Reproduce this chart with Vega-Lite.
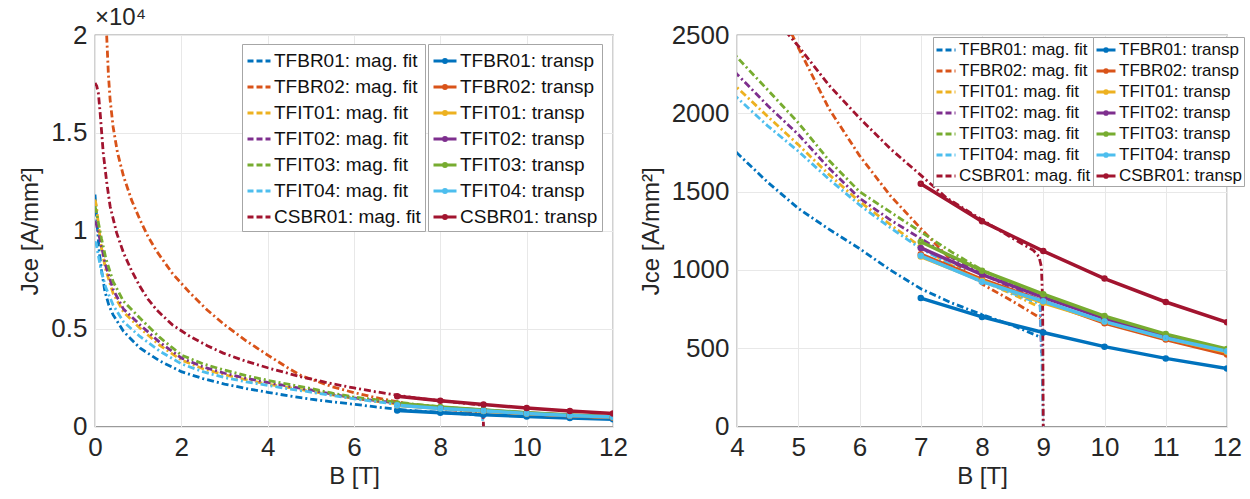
{
  "$schema": "https://vega.github.io/schema/vega-lite/v6.json",
  "autosize": {"type": "pad"},
  "padding": {"left": 18, "top": 5, "right": 5, "bottom": 5},
  "bounds": "flush",
  "spacing": 124,
  "background": "white",
  "resolve": {"scale": {"color": "independent", "stroke": "independent"}, "legend": {"color": "independent", "stroke": "independent"}},
  "datasets": {
    "fit": [
      {"s":"TFBR01: mag. fit","B":0,"J":11850},{"s":"TFBR01: mag. fit","B":0.05,"J":10300},{"s":"TFBR01: mag. fit","B":0.1,"J":8900},{"s":"TFBR01: mag. fit","B":0.15,"J":8000},{"s":"TFBR01: mag. fit","B":0.23,"J":6900},{"s":"TFBR01: mag. fit","B":0.32,"J":6200},{"s":"TFBR01: mag. fit","B":0.42,"J":5700},{"s":"TFBR01: mag. fit","B":0.66,"J":4860},{"s":"TFBR01: mag. fit","B":1.04,"J":4010},{"s":"TFBR01: mag. fit","B":1.5,"J":3350},{"s":"TFBR01: mag. fit","B":2,"J":2800},{"s":"TFBR01: mag. fit","B":2.5,"J":2450},{"s":"TFBR01: mag. fit","B":3,"J":2170},{"s":"TFBR01: mag. fit","B":3.5,"J":1940},{"s":"TFBR01: mag. fit","B":4,"J":1747},{"s":"TFBR01: mag. fit","B":4.5,"J":1560},{"s":"TFBR01: mag. fit","B":5,"J":1393},{"s":"TFBR01: mag. fit","B":5.5,"J":1260},{"s":"TFBR01: mag. fit","B":6,"J":1136},{"s":"TFBR01: mag. fit","B":6.5,"J":1000},{"s":"TFBR01: mag. fit","B":7,"J":880},{"s":"TFBR01: mag. fit","B":7.5,"J":790},{"s":"TFBR01: mag. fit","B":8,"J":715},{"s":"TFBR01: mag. fit","B":8.5,"J":645},{"s":"TFBR01: mag. fit","B":8.9,"J":580},{"s":"TFBR01: mag. fit","B":8.95,"J":570},
      {"s":"TFBR02: mag. fit","B":0.25,"J":21500},{"s":"TFBR02: mag. fit","B":0.27,"J":20000},{"s":"TFBR02: mag. fit","B":0.31,"J":18000},{"s":"TFBR02: mag. fit","B":0.35,"J":16700},{"s":"TFBR02: mag. fit","B":0.42,"J":15300},{"s":"TFBR02: mag. fit","B":0.52,"J":14000},{"s":"TFBR02: mag. fit","B":0.66,"J":12790},{"s":"TFBR02: mag. fit","B":0.85,"J":11550},{"s":"TFBR02: mag. fit","B":1.04,"J":10570},{"s":"TFBR02: mag. fit","B":1.23,"J":9700},{"s":"TFBR02: mag. fit","B":1.43,"J":8950},{"s":"TFBR02: mag. fit","B":1.8,"J":7800},{"s":"TFBR02: mag. fit","B":2.2,"J":6823},{"s":"TFBR02: mag. fit","B":2.6,"J":5950},{"s":"TFBR02: mag. fit","B":3,"J":5200},{"s":"TFBR02: mag. fit","B":3.5,"J":4380},{"s":"TFBR02: mag. fit","B":4,"J":3650},{"s":"TFBR02: mag. fit","B":4.5,"J":2950},{"s":"TFBR02: mag. fit","B":4.78,"J":2600},{"s":"TFBR02: mag. fit","B":5,"J":2420},{"s":"TFBR02: mag. fit","B":5.5,"J":2030},{"s":"TFBR02: mag. fit","B":6,"J":1730},{"s":"TFBR02: mag. fit","B":6.5,"J":1475},{"s":"TFBR02: mag. fit","B":7,"J":1265},{"s":"TFBR02: mag. fit","B":7.5,"J":1060},{"s":"TFBR02: mag. fit","B":8,"J":910},{"s":"TFBR02: mag. fit","B":8.5,"J":800},{"s":"TFBR02: mag. fit","B":8.9,"J":705},{"s":"TFBR02: mag. fit","B":8.95,"J":690},
      {"s":"TFIT01: mag. fit","B":0,"J":11600},{"s":"TFIT01: mag. fit","B":0.03,"J":11300},{"s":"TFIT01: mag. fit","B":0.08,"J":10300},{"s":"TFIT01: mag. fit","B":0.15,"J":9100},{"s":"TFIT01: mag. fit","B":0.25,"J":8000},{"s":"TFIT01: mag. fit","B":0.42,"J":6800},{"s":"TFIT01: mag. fit","B":0.66,"J":5850},{"s":"TFIT01: mag. fit","B":1.04,"J":5030},{"s":"TFIT01: mag. fit","B":1.5,"J":4150},{"s":"TFIT01: mag. fit","B":2,"J":3400},{"s":"TFIT01: mag. fit","B":2.5,"J":2950},{"s":"TFIT01: mag. fit","B":3,"J":2640},{"s":"TFIT01: mag. fit","B":3.5,"J":2390},{"s":"TFIT01: mag. fit","B":4,"J":2165},{"s":"TFIT01: mag. fit","B":4.5,"J":1980},{"s":"TFIT01: mag. fit","B":5,"J":1800},{"s":"TFIT01: mag. fit","B":5.5,"J":1610},{"s":"TFIT01: mag. fit","B":6,"J":1436},{"s":"TFIT01: mag. fit","B":6.5,"J":1290},{"s":"TFIT01: mag. fit","B":7,"J":1147},{"s":"TFIT01: mag. fit","B":7.5,"J":1030},{"s":"TFIT01: mag. fit","B":8,"J":930},{"s":"TFIT01: mag. fit","B":8.5,"J":845},{"s":"TFIT01: mag. fit","B":8.9,"J":770},
      {"s":"TFIT02: mag. fit","B":0,"J":10500},{"s":"TFIT02: mag. fit","B":0.03,"J":10350},{"s":"TFIT02: mag. fit","B":0.08,"J":9900},{"s":"TFIT02: mag. fit","B":0.15,"J":9200},{"s":"TFIT02: mag. fit","B":0.25,"J":8200},{"s":"TFIT02: mag. fit","B":0.42,"J":7000},{"s":"TFIT02: mag. fit","B":0.66,"J":6000},{"s":"TFIT02: mag. fit","B":1.04,"J":5200},{"s":"TFIT02: mag. fit","B":1.5,"J":4300},{"s":"TFIT02: mag. fit","B":2,"J":3500},{"s":"TFIT02: mag. fit","B":2.5,"J":3050},{"s":"TFIT02: mag. fit","B":3,"J":2720},{"s":"TFIT02: mag. fit","B":3.5,"J":2460},{"s":"TFIT02: mag. fit","B":4,"J":2250},{"s":"TFIT02: mag. fit","B":4.5,"J":2050},{"s":"TFIT02: mag. fit","B":5,"J":1865},{"s":"TFIT02: mag. fit","B":5.5,"J":1650},{"s":"TFIT02: mag. fit","B":6,"J":1458},{"s":"TFIT02: mag. fit","B":6.5,"J":1320},{"s":"TFIT02: mag. fit","B":7,"J":1200},{"s":"TFIT02: mag. fit","B":7.5,"J":1080},{"s":"TFIT02: mag. fit","B":8,"J":975},{"s":"TFIT02: mag. fit","B":8.5,"J":885},{"s":"TFIT02: mag. fit","B":8.9,"J":815},{"s":"TFIT02: mag. fit","B":8.95,"J":790},{"s":"TFIT02: mag. fit","B":8.97,"J":470},
      {"s":"TFIT03: mag. fit","B":0,"J":11250},{"s":"TFIT03: mag. fit","B":0.03,"J":11000},{"s":"TFIT03: mag. fit","B":0.08,"J":10400},{"s":"TFIT03: mag. fit","B":0.15,"J":9600},{"s":"TFIT03: mag. fit","B":0.25,"J":8600},{"s":"TFIT03: mag. fit","B":0.42,"J":7400},{"s":"TFIT03: mag. fit","B":0.66,"J":6400},{"s":"TFIT03: mag. fit","B":1.04,"J":5540},{"s":"TFIT03: mag. fit","B":1.5,"J":4550},{"s":"TFIT03: mag. fit","B":2,"J":3650},{"s":"TFIT03: mag. fit","B":2.5,"J":3200},{"s":"TFIT03: mag. fit","B":3,"J":2880},{"s":"TFIT03: mag. fit","B":3.5,"J":2600},{"s":"TFIT03: mag. fit","B":4,"J":2358},{"s":"TFIT03: mag. fit","B":4.5,"J":2150},{"s":"TFIT03: mag. fit","B":5,"J":1940},{"s":"TFIT03: mag. fit","B":5.5,"J":1700},{"s":"TFIT03: mag. fit","B":6,"J":1500},{"s":"TFIT03: mag. fit","B":6.5,"J":1370},{"s":"TFIT03: mag. fit","B":7,"J":1243},{"s":"TFIT03: mag. fit","B":7.5,"J":1115},{"s":"TFIT03: mag. fit","B":8,"J":1000},{"s":"TFIT03: mag. fit","B":8.5,"J":910},{"s":"TFIT03: mag. fit","B":8.9,"J":850},
      {"s":"TFIT04: mag. fit","B":0,"J":9460},{"s":"TFIT04: mag. fit","B":0.03,"J":9300},{"s":"TFIT04: mag. fit","B":0.08,"J":8700},{"s":"TFIT04: mag. fit","B":0.15,"J":7900},{"s":"TFIT04: mag. fit","B":0.25,"J":7100},{"s":"TFIT04: mag. fit","B":0.42,"J":6200},{"s":"TFIT04: mag. fit","B":0.66,"J":5350},{"s":"TFIT04: mag. fit","B":1.04,"J":4600},{"s":"TFIT04: mag. fit","B":1.5,"J":3850},{"s":"TFIT04: mag. fit","B":2,"J":3200},{"s":"TFIT04: mag. fit","B":2.5,"J":2800},{"s":"TFIT04: mag. fit","B":3,"J":2500},{"s":"TFIT04: mag. fit","B":3.5,"J":2280},{"s":"TFIT04: mag. fit","B":4,"J":2100},{"s":"TFIT04: mag. fit","B":4.5,"J":1920},{"s":"TFIT04: mag. fit","B":5,"J":1758},{"s":"TFIT04: mag. fit","B":5.5,"J":1580},{"s":"TFIT04: mag. fit","B":6,"J":1415},{"s":"TFIT04: mag. fit","B":6.5,"J":1270},{"s":"TFIT04: mag. fit","B":7,"J":1136},{"s":"TFIT04: mag. fit","B":7.5,"J":1030},{"s":"TFIT04: mag. fit","B":8,"J":930},{"s":"TFIT04: mag. fit","B":8.5,"J":850},{"s":"TFIT04: mag. fit","B":8.9,"J":790},{"s":"TFIT04: mag. fit","B":8.95,"J":770},{"s":"TFIT04: mag. fit","B":8.98,"J":400},{"s":"TFIT04: mag. fit","B":9.0,"J":0},
      {"s":"CSBR01: mag. fit","B":0,"J":17550},{"s":"CSBR01: mag. fit","B":0.04,"J":17400},{"s":"CSBR01: mag. fit","B":0.08,"J":17000},{"s":"CSBR01: mag. fit","B":0.12,"J":16000},{"s":"CSBR01: mag. fit","B":0.19,"J":14000},{"s":"CSBR01: mag. fit","B":0.27,"J":12500},{"s":"CSBR01: mag. fit","B":0.35,"J":11250},{"s":"CSBR01: mag. fit","B":0.5,"J":9900},{"s":"CSBR01: mag. fit","B":0.66,"J":8870},{"s":"CSBR01: mag. fit","B":0.85,"J":7950},{"s":"CSBR01: mag. fit","B":1.04,"J":7160},{"s":"CSBR01: mag. fit","B":1.23,"J":6500},{"s":"CSBR01: mag. fit","B":1.43,"J":5950},{"s":"CSBR01: mag. fit","B":1.8,"J":5180},{"s":"CSBR01: mag. fit","B":2.2,"J":4600},{"s":"CSBR01: mag. fit","B":2.6,"J":4130},{"s":"CSBR01: mag. fit","B":2.97,"J":3750},{"s":"CSBR01: mag. fit","B":3.5,"J":3330},{"s":"CSBR01: mag. fit","B":4,"J":3000},{"s":"CSBR01: mag. fit","B":4.5,"J":2700},{"s":"CSBR01: mag. fit","B":4.78,"J":2530},{"s":"CSBR01: mag. fit","B":5,"J":2430},{"s":"CSBR01: mag. fit","B":5.5,"J":2180},{"s":"CSBR01: mag. fit","B":6,"J":1970},{"s":"CSBR01: mag. fit","B":6.5,"J":1775},{"s":"CSBR01: mag. fit","B":7,"J":1605},{"s":"CSBR01: mag. fit","B":7.42,"J":1460},{"s":"CSBR01: mag. fit","B":8,"J":1320},{"s":"CSBR01: mag. fit","B":8.46,"J":1211},{"s":"CSBR01: mag. fit","B":8.84,"J":1125},{"s":"CSBR01: mag. fit","B":8.93,"J":1085},{"s":"CSBR01: mag. fit","B":8.97,"J":1020},{"s":"CSBR01: mag. fit","B":8.99,"J":800},{"s":"CSBR01: mag. fit","B":9.0,"J":0}
    ],
    "transp": [
      {"t":"TFBR01: transp","B":7,"J":820},{"t":"TFBR01: transp","B":8,"J":700},{"t":"TFBR01: transp","B":9,"J":600},{"t":"TFBR01: transp","B":10,"J":510},{"t":"TFBR01: transp","B":11,"J":435},{"t":"TFBR01: transp","B":12,"J":370},
      {"t":"TFBR02: transp","B":7,"J":1100},{"t":"TFBR02: transp","B":8,"J":940},{"t":"TFBR02: transp","B":9,"J":800},{"t":"TFBR02: transp","B":10,"J":660},{"t":"TFBR02: transp","B":11,"J":555},{"t":"TFBR02: transp","B":12,"J":460},
      {"t":"TFIT01: transp","B":7,"J":1085},{"t":"TFIT01: transp","B":8,"J":930},{"t":"TFIT01: transp","B":9,"J":790},{"t":"TFIT01: transp","B":10,"J":670},{"t":"TFIT01: transp","B":11,"J":565},{"t":"TFIT01: transp","B":12,"J":475},
      {"t":"TFIT02: transp","B":7,"J":1140},{"t":"TFIT02: transp","B":8,"J":970},{"t":"TFIT02: transp","B":9,"J":825},{"t":"TFIT02: transp","B":10,"J":690},{"t":"TFIT02: transp","B":11,"J":575},{"t":"TFIT02: transp","B":12,"J":485},
      {"t":"TFIT03: transp","B":7,"J":1180},{"t":"TFIT03: transp","B":8,"J":995},{"t":"TFIT03: transp","B":9,"J":845},{"t":"TFIT03: transp","B":10,"J":705},{"t":"TFIT03: transp","B":11,"J":590},{"t":"TFIT03: transp","B":12,"J":495},
      {"t":"TFIT04: transp","B":7,"J":1090},{"t":"TFIT04: transp","B":8,"J":925},{"t":"TFIT04: transp","B":9,"J":800},{"t":"TFIT04: transp","B":10,"J":670},{"t":"TFIT04: transp","B":11,"J":565},{"t":"TFIT04: transp","B":12,"J":480},
      {"t":"CSBR01: transp","B":7,"J":1550},{"t":"CSBR01: transp","B":8,"J":1310},{"t":"CSBR01: transp","B":9,"J":1120},{"t":"CSBR01: transp","B":10,"J":945},{"t":"CSBR01: transp","B":11,"J":795},{"t":"CSBR01: transp","B":12,"J":665}
    ]
  },
  "config": {
    "font": "Liberation Sans",
    "view": {"stroke": "#9a9a9a", "strokeWidth": 1.3},
    "axis": {"domain": false, "ticks": false, "grid": true, "gridColor": "#e8e8e8", "gridWidth": 1, "labelColor": "#262626", "titleColor": "#262626", "labelFontSize": 26, "titleFontSize": 24, "titleFontWeight": "normal", "labelPadding": 8, "titlePadding": 8, "labelFlush": false, "labelOverlap": false, "format": "d"},
    "legend": {"orient": "none", "title": null, "strokeColor": "#a6a6a6", "fillColor": "white", "labelColor": "#111111", "labelOffset": 2, "symbolStrokeWidth": 3, "columns": 1, "labelLimit": 400}
  },
  "hconcat": [
    {
      "width": 518,
      "height": 391.5,
      "title": {"text": "×10⁴", "anchor": "start", "frame": "group", "fontSize": 24, "fontWeight": "normal", "color": "#262626", "offset": -8},
      "layer": [
        {
          "data": {"name": "fit"},
          "mark": {"type": "line", "strokeDash": [7, 3, 2, 3], "strokeWidth": 2.8, "clip": true},
          "encoding": {
            "x": {"field": "B", "type": "quantitative", "scale": {"domain": [0, 12], "nice": false}, "axis": {"values": [0, 2, 4, 6, 8, 10, 12], "title": "B [T]", "titlePadding": 4}},
            "y": {"field": "J", "type": "quantitative", "scale": {"domain": [0, 20000], "nice": false}, "axis": {"values": [0, 5000, 10000, 15000, 20000], "labelExpr": "datum.value / 10000", "title": "Jce  [A/mm²]"}},
            "color": {"field": "s", "type": "nominal", "scale": {"domain": ["TFBR01: mag. fit", "TFBR02: mag. fit", "TFIT01: mag. fit", "TFIT02: mag. fit", "TFIT03: mag. fit", "TFIT04: mag. fit", "CSBR01: mag. fit"], "range": ["#0072BD", "#D95319", "#EDB120", "#7E2F8E", "#77AC30", "#4DBEEE", "#A2142F"]}, "legend": {"legendX": 147, "legendY": 9, "symbolType": "stroke", "symbolDash": [6, 3], "symbolSize": 529, "labelFontSize": 19, "rowPadding": 3, "padding": 4}}
          }
        },
        {
          "data": {"name": "transp"},
          "mark": {"type": "line", "strokeWidth": 3.5, "clip": true},
          "encoding": {
            "x": {"field": "B", "type": "quantitative"},
            "y": {"field": "J", "type": "quantitative"},
            "stroke": {"field": "t", "type": "nominal", "scale": {"domain": ["TFBR01: transp", "TFBR02: transp", "TFIT01: transp", "TFIT02: transp", "TFIT03: transp", "TFIT04: transp", "CSBR01: transp"], "range": ["#0072BD", "#D95319", "#EDB120", "#7E2F8E", "#77AC30", "#4DBEEE", "#A2142F"]}, "legend": {"legendX": 333, "legendY": 9, "symbolType": "M-1,0H1M-0.13,0a0.13,0.13 0 1,0 0.26,0a0.13,0.13 0 1,0 -0.26,0", "symbolSize": 529, "labelFontSize": 19, "rowPadding": 3, "padding": 4}}
          }
        },
        {
          "data": {"name": "transp"},
          "mark": {"type": "point", "filled": false, "size": 9, "strokeWidth": 3.5, "opacity": 1, "clip": true},
          "encoding": {
            "x": {"field": "B", "type": "quantitative"},
            "y": {"field": "J", "type": "quantitative"},
            "stroke": {"field": "t", "type": "nominal"}
          }
        }
      ]
    },
    {
      "width": 490,
      "height": 391.5,
      "layer": [
        {
          "data": {"name": "fit"},
          "mark": {"type": "line", "strokeDash": [7, 3, 2, 3], "strokeWidth": 2.8, "clip": true},
          "encoding": {
            "x": {"field": "B", "type": "quantitative", "scale": {"domain": [4, 12], "nice": false}, "axis": {"values": [4, 5, 6, 7, 8, 9, 10, 11, 12], "title": "B [T]", "titlePadding": 4}},
            "y": {"field": "J", "type": "quantitative", "scale": {"domain": [0, 2500], "nice": false}, "axis": {"values": [0, 500, 1000, 1500, 2000, 2500], "title": "Jce  [A/mm²]"}},
            "color": {"field": "s", "type": "nominal", "scale": {"domain": ["TFBR01: mag. fit", "TFBR02: mag. fit", "TFIT01: mag. fit", "TFIT02: mag. fit", "TFIT03: mag. fit", "TFIT04: mag. fit", "CSBR01: mag. fit"], "range": ["#0072BD", "#D95319", "#EDB120", "#7E2F8E", "#77AC30", "#4DBEEE", "#A2142F"]}, "legend": {"legendX": 196, "legendY": 2, "symbolType": "stroke", "symbolDash": [6, 3], "symbolSize": 361, "labelFontSize": 17, "rowPadding": 2, "padding": 2}}
          }
        },
        {
          "data": {"name": "transp"},
          "mark": {"type": "line", "strokeWidth": 3.5, "clip": true},
          "encoding": {
            "x": {"field": "B", "type": "quantitative"},
            "y": {"field": "J", "type": "quantitative"},
            "stroke": {"field": "t", "type": "nominal", "scale": {"domain": ["TFBR01: transp", "TFBR02: transp", "TFIT01: transp", "TFIT02: transp", "TFIT03: transp", "TFIT04: transp", "CSBR01: transp"], "range": ["#0072BD", "#D95319", "#EDB120", "#7E2F8E", "#77AC30", "#4DBEEE", "#A2142F"]}, "legend": {"legendX": 356, "legendY": 2, "symbolType": "M-1,0H1M-0.14,0a0.14,0.14 0 1,0 0.28,0a0.14,0.14 0 1,0 -0.28,0", "symbolSize": 361, "labelFontSize": 17, "rowPadding": 2, "padding": 2}}
          }
        },
        {
          "data": {"name": "transp"},
          "mark": {"type": "point", "filled": false, "size": 9, "strokeWidth": 3.5, "opacity": 1, "clip": true},
          "encoding": {
            "x": {"field": "B", "type": "quantitative"},
            "y": {"field": "J", "type": "quantitative"},
            "stroke": {"field": "t", "type": "nominal"}
          }
        }
      ]
    }
  ]
}
